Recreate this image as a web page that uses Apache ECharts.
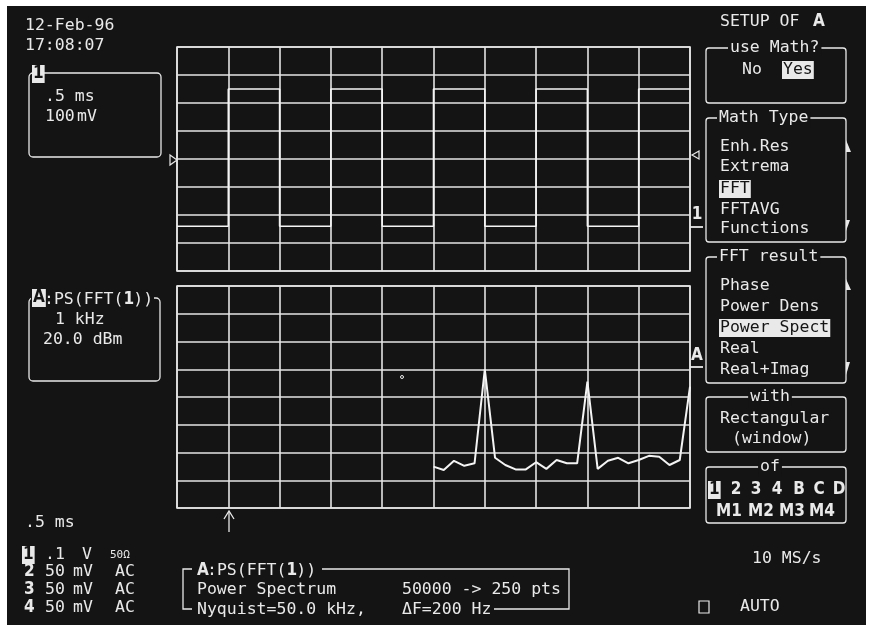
<!DOCTYPE html>
<html>
<head>
<meta charset="utf-8">
<script src="https://cdn.jsdelivr.net/npm/echarts/dist/echarts.min.js"></script>
<style>
  html, body { margin:0; padding:0; background:#ffffff; }
  #bg { position:absolute; left:7px; top:6px; width:859px; height:619px; background:#141414; }
  #chart { position:absolute; left:0; top:0; width:869px; height:627px; }
</style>
</head>
<body>
<div id="bg"></div>
<div id="chart"></div>
<script>
// ---- Data ----
// Channel 1 square wave: segment boundaries (ms) and level of each segment (mV)
const sqTimes  = [0, 0.5, 1.0, 1.5, 2.0, 2.5, 3.0, 3.5, 4.0, 4.5, 5.0];
const sqLevels = [-240, 250, -240, 250, -240, 250, -240, 250, -240, 250];
// Trace A: power spectrum, frequency (kHz) and level (dBm)
const fftFreq = [5.0, 5.2, 5.4, 5.6, 5.8, 6.0, 6.2, 6.4, 6.6, 6.8, 7.0, 7.2, 7.4,
                 7.6, 7.8, 8.0, 8.2, 8.4, 8.6, 8.8, 9.0, 9.2, 9.4, 9.6, 9.8, 10.0];
const fftDbm  = [-110.2, -112.6, -106.0, -109.6, -107.8, -40.0, -103.8, -109.0, -112.2,
                 -112.2, -107.0, -111.8, -105.4, -107.8, -107.8, -49.0, -111.8, -106.0,
                 -103.8, -107.8, -105.4, -102.4, -103.0, -109.0, -105.4, -52.6];
// Axis ranges (per division)
const timeAxis = { min: 0, max: 5, interval: 0.5 };       // .5 ms/div
const voltAxis = { min: -400, max: 400, interval: 100 };  // 100 mV/div
const freqAxis = { min: 0, max: 10, interval: 1 };        // 1 kHz/div
const dbmAxis  = { min: -140, max: 20, interval: 20 };    // 20 dBm/div

// ---- Styles ----
const FG = '#e9e9e9', BG = '#141414';
const MONO = '"DejaVu Sans Mono", "Liberation Mono", monospace';
const F = '16.5px ' + MONO;
const FB = 'bold 17px "DejaVu Sans Condensed", ' + MONO;
const CW = 9.93;

function t(x, y, s, o) {
  o = o || {};
  const st = { text: s, fill: o.fill || FG, font: o.font || F,
    textAlign: o.align || 'left', align: o.align || 'left',
    textVerticalAlign: 'middle', verticalAlign: 'middle' };
  if (o.bg) { st.backgroundColor = o.bg; st.padding = o.pad || [0, 2]; }
  return { type: 'text', x: x, y: y, z: 100, style: st };
}
function badge(x, y, s) {
  return t(x, y, s, { font: FB, fill: BG, bg: FG, pad: [1, 1, 0, 1] });
}
function box(x1, y1, x2, y2, r) {
  return { type: 'rect', z: 98, shape: { x: x1, y: y1, width: x2 - x1, height: y2 - y1, r: r || 3 },
    style: { stroke: FG, fill: null, lineWidth: 1.3 } };
}
function pl(pts, w) {
  return { type: 'polyline', z: 98, shape: { points: pts }, style: { stroke: FG, fill: null, lineWidth: w || 1.3 } };
}
function pg(pts, filled) {
  return { type: 'polygon', z: 98, shape: { points: pts },
    style: filled === false ? { stroke: FG, fill: null, lineWidth: 1.2 } : { fill: FG } };
}

const G = [];
// top-left date/time
G.push(t(25, 26, '12-Feb-96'), t(25, 46, '17:08:07'));
// channel 1 box
G.push(box(29, 73, 161, 157, 4));
G.push(badge(32, 74, '1'));
G.push(t(45, 97, '.5 ms'), t(45, 117, '100'), t(77, 117, 'mV'));
// trace A box
G.push(box(29, 298, 160, 381, 4));
G.push({ type: 'rect', z: 99, shape: { x: 31, y: 292, width: 123, height: 12 }, style: { fill: BG } });
G.push(badge(32, 298, 'A'));
G.push(t(44, 300, ':PS(FFT('), t(44 + 8 * CW, 300, '1', { font: FB }), t(44 + 9 * CW, 300, '))'));
G.push(t(55, 320, '1 kHz'), t(43, 340, '20.0 dBm'));

// bottom-left channel table
G.push(t(25, 523, '.5 ms'));
G.push(badge(22, 555, '1'));
G.push(t(45, 555, '.1'), t(82, 555, 'V'), t(110, 555, '50Ω', { font: '11px ' + MONO }));
[['2', 572], ['3', 590], ['4', 608]].forEach(function (r) {
  G.push(t(24, r[1], r[0], { font: FB }), t(45, r[1], '50'), t(73, r[1], 'mV'), t(115, r[1], 'AC'));
});
// trigger arrow
G.push(pl([[229, 512], [229, 532]]), pl([[224, 519], [229, 511], [234, 519]]));

// bottom center info box
G.push(pl([[192, 569], [183, 569], [183, 609], [192, 609]]));
G.push(pl([[322, 569], [569, 569], [569, 609], [494, 609]]));
G.push(t(197, 571, 'A', { font: FB }), t(207, 571, ':PS(FFT('), t(207 + 8 * CW, 571, '1', { font: FB }), t(207 + 9 * CW, 571, '))'));
G.push(t(197, 590, 'Power Spectrum'), t(402, 590, '50000 -> 250 pts'));
G.push(t(197, 610, 'Nyquist=50.0 kHz,'), t(402, 610, 'ΔF=200 Hz'));

// bottom right
G.push(t(752, 559, '10 MS/s'));
G.push({ type: 'rect', z: 98, shape: { x: 699, y: 601, width: 10, height: 12 }, style: { stroke: FG, fill: null, lineWidth: 1.2 } });
G.push(t(740, 607, 'AUTO'));

// right menu
G.push(t(720, 22, 'SETUP OF'), t(813, 22, 'A', { font: FB }));
function titled(x1, y1, x2, y2, title, tx, center) {
  G.push(box(x1, y1, x2, y2, 3));
  G.push(t(tx, y1, title, { bg: BG, pad: [0, 2], align: center ? 'center' : 'left' }));
}
titled(706, 48, 846, 103, 'use Math?', 728);
G.push(t(742, 70, 'No'), t(782, 70, 'Yes', { bg: FG, fill: BG, pad: [1, 1, 0, 1] }));
titled(706, 118, 846, 242, 'Math Type', 717);
G.push(t(720, 147, 'Enh.Res'), t(720, 167, 'Extrema'), t(719, 189, 'FFT', { bg: FG, fill: BG, pad: [1, 1, 0, 1] }),
       t(720, 210, 'FFTAVG'), t(720, 229, 'Functions'));
G.push(pg([[846, 140], [851, 152], [846, 152]]), pg([[846, 220], [850, 220], [846, 231]]));
titled(706, 257, 846, 383, 'FFT result', 717);
G.push(t(720, 286, 'Phase'), t(720, 307, 'Power Dens'), t(719, 328, 'Power Spect', { bg: FG, fill: BG, pad: [1, 1, 0, 1] }),
       t(720, 349, 'Real'), t(720, 370, 'Real+Imag'));
G.push(pg([[846, 279], [851, 290], [846, 290]]), pg([[846, 362], [850, 362], [846, 375]]));
titled(706, 397, 846, 452, 'with', 770, true);
G.push(t(720, 419, 'Rectangular'), t(732, 439, '(window)'));
titled(706, 467, 846, 523, 'of', 770, true);
G.push(badge(708, 490, '1'));
[['2', 736], ['3', 756], ['4', 777], ['B', 799], ['C', 819], ['D', 839]].forEach(function (c) {
  G.push(t(c[1], 490, c[0], { font: FB, align: 'center' }));
});
[['M1', 729], ['M2', 761], ['M3', 792], ['M4', 822]].forEach(function (c) {
  G.push(t(c[1], 512, c[0], { font: FB, align: 'center' }));
});

// trace markers
G.push(pg([[170, 155], [177, 160], [170, 165]], false));
G.push(pg([[699, 151], [692, 155], [699, 159]], false));
G.push(t(697, 215, '1', { font: FB, align: 'center' }), pl([[690, 227], [703, 227]], 1.8));
G.push(t(697, 356, 'A', { font: FB, align: 'center' }), pl([[690, 367], [703, 367]], 1.8));
G.push({ type: 'circle', z: 98, shape: { cx: 402, cy: 377, r: 1.5 }, style: { stroke: FG, fill: null, lineWidth: 1 } });

// ---- Series data built from arrays ----
const sqData = [];
for (let i = 0; i < sqLevels.length; i++) {
  sqData.push([sqTimes[i], sqLevels[i]], [sqTimes[i + 1], sqLevels[i]]);
}
const fftData = fftFreq.map(function (f, i) { return [f, fftDbm[i]]; });

const gridLine = { show: true, lineStyle: { color: '#e4e4e4', width: 1.6 } };
function vAxis(idx, r) {
  return { type: 'value', gridIndex: idx, min: r.min, max: r.max, interval: r.interval,
    axisLabel: { show: false }, axisTick: { show: false }, axisLine: { show: false }, splitLine: gridLine };
}

const chart = echarts.init(document.getElementById('chart'), null, { renderer: 'canvas' });
chart.setOption({
  backgroundColor: 'transparent',
  animation: false,
  grid: [
    { left: 177, top: 47, width: 513, height: 224, show: true, borderColor: '#e8e8e8', borderWidth: 1.6, backgroundColor: 'transparent' },
    { left: 177, top: 286, width: 513, height: 222, show: true, borderColor: '#e8e8e8', borderWidth: 1.6, backgroundColor: 'transparent' }
  ],
  xAxis: [vAxis(0, timeAxis), vAxis(1, freqAxis)],
  yAxis: [vAxis(0, voltAxis), vAxis(1, dbmAxis)],
  series: [
    { type: 'line', xAxisIndex: 0, yAxisIndex: 0, data: sqData, showSymbol: false, symbol: 'none',
      lineStyle: { color: '#f4f4f4', width: 1.6 }, z: 5 },
    { type: 'line', xAxisIndex: 1, yAxisIndex: 1, data: fftData, showSymbol: false, symbol: 'none',
      lineStyle: { color: '#f4f4f4', width: 2 }, z: 5 }
  ],
  graphic: { elements: G }
});
</script>
</body>
</html>
